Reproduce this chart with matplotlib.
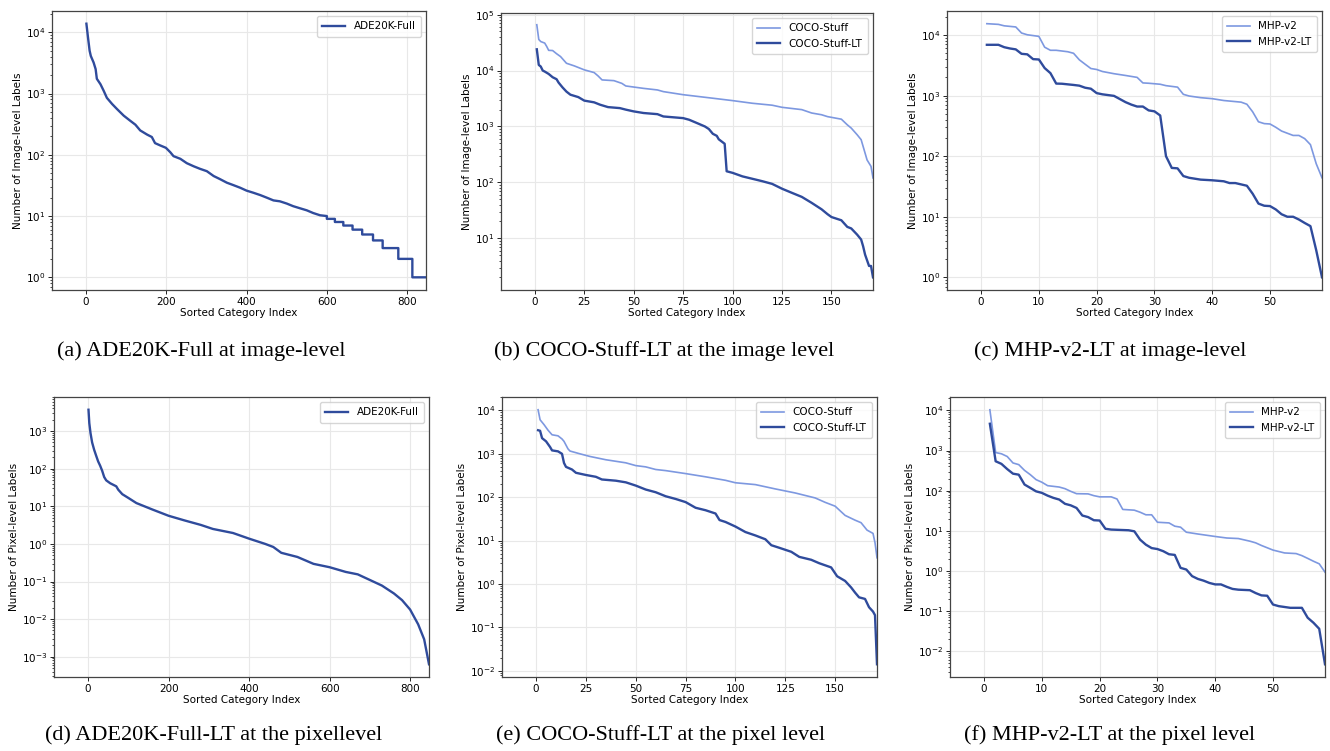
import matplotlib
matplotlib.use("Agg")
import matplotlib.pyplot as plt

DARK = "#2f4b9c"
LIGHT = "#7d98e0"

# ---- ADE20K-Full (847 categories) ----
ade_n = 847
ade_img_x = [1, 5, 9, 12, 19, 24, 27, 36, 44, 52, 65, 77, 94, 110, 123, 135, 152, 164, 172,
             185, 199, 210, 218, 235, 251, 268, 284, 301, 318, 334, 351, 367, 384, 400, 417,
             434, 450, 467, 483, 500, 516, 533, 550, 566, 583, 600, 600, 620, 620, 641, 641,
             664, 664, 688, 688, 715, 715, 739, 739, 778, 778, 813, 813, 847]
ade_img_y = [13800, 8200, 5000, 4100, 3200, 2500, 1740, 1420, 1110, 850, 675, 560, 435, 360,
             310, 250, 214, 195, 155, 142, 130, 110, 95, 86, 73, 65, 59, 54, 45, 40, 35, 32,
             29, 26, 24, 22, 20, 18, 17.4, 16, 14.5, 13.4, 12.4, 11.2, 10.3, 10, 9, 9, 8, 8,
             7, 7, 6, 6, 5, 5, 4, 4, 3, 3, 2, 2, 1, 1]

ade_pix_x = [1, 3, 6, 10, 15, 20, 25, 30, 35, 40, 45, 55, 70, 75, 85, 100, 120, 140, 160, 200,
             240, 280, 310, 360, 400, 440, 460, 480, 520, 560, 600, 640, 670, 700, 730, 760,
             780, 800, 820, 835, 847]
ade_pix_y = [3700, 1630, 885, 500, 320, 222, 156, 120, 88, 60, 49, 41, 34, 27.6, 21, 16.7,
             12.2, 10, 8.2, 5.6, 4.2, 3.2, 2.5, 1.95, 1.38, 1.0, 0.83, 0.58, 0.45, 0.295, 0.24,
             0.18, 0.155, 0.11, 0.078, 0.048, 0.032, 0.018, 0.0073, 0.0029, 0.00063]

# ---- COCO-Stuff (171 categories) ----
coco_n = 171
coco_img_x = [1, 2, 3, 5, 6, 7, 9, 11, 13, 16, 20, 25, 30, 32, 34, 40, 44, 46, 55, 62, 65, 75,
              90, 100, 110, 120, 125, 135, 140, 145, 148, 155, 158, 160, 163, 165, 166, 168,
              170, 171]
coco_img_y = [66000, 36000, 33000, 31000, 27000, 23000, 22800, 20000, 17800, 13500, 12100,
              10300, 9200, 8000, 6800, 6600, 5900, 5300, 4800, 4500, 4200, 3700, 3200, 2900,
              2600, 2400, 2200, 2000, 1740, 1620, 1500, 1350, 1070, 935, 710, 580, 440, 252,
              193, 120]
coco_lt_img_x = [1, 2, 3, 4, 5, 7, 9, 11, 12, 14, 16, 18, 22, 25, 30, 33, 37, 43, 46, 50, 55,
                 62, 65, 75, 78, 82, 86, 88, 90, 92, 93, 96, 97, 100, 105, 115, 120, 125, 130,
                 135, 140, 145, 148, 150, 155, 158, 160, 163, 165, 166, 167, 169, 170, 171]
coco_lt_img_y = [24000, 12600, 11800, 10000, 9600, 8700, 7600, 7000, 6100, 5000, 4200, 3700,
                 3350, 2900, 2700, 2450, 2220, 2130, 2000, 1860, 1740, 1660, 1510, 1410, 1320,
                 1150, 1000, 900, 740, 680, 590, 490, 158, 148, 128, 105, 94, 77, 65, 55, 43,
                 33, 27, 24, 21, 16, 15, 11.6, 9.5, 7.2, 5.1, 3.2, 3.2, 2.0]

coco_pix_x = [1, 2, 4, 6, 8, 11, 13, 14, 16, 17, 22, 27, 35, 45, 50, 55, 60, 65, 75, 85, 95,
              100, 110, 120, 130, 140, 145, 150, 155, 160, 163, 166, 169, 170, 171]
coco_pix_y = [10400, 6100, 4700, 3500, 2750, 2600, 2200, 1940, 1300, 1160, 1000, 870, 730,
              620, 535, 500, 435, 410, 350, 295, 245, 215, 195, 155, 125, 96, 76, 62, 38,
              29.5, 25.8, 17.4, 14.6, 8.9, 4.0]
coco_lt_pix_x = [1, 2, 3, 5, 7, 8, 11, 13, 14, 15, 18, 20, 25, 30, 33, 40, 45, 50, 55, 60, 65,
                 70, 75, 80, 85, 90, 92, 95, 100, 105, 110, 115, 118, 122, 128, 132, 138, 142,
                 148, 151, 155, 158, 160, 162, 165, 167, 169, 170, 171]
coco_lt_pix_y = [3500, 3400, 2300, 1940, 1440, 1200, 1140, 1000, 615, 500, 435, 365, 325, 295,
                 256, 240, 220, 185, 150, 130, 105, 91, 77, 57, 50, 42, 29.7, 26.8, 21, 15.7,
                 13.1, 10.7, 7.8, 6.8, 5.5, 4.2, 3.6, 3.0, 2.4, 1.5, 1.17, 0.83, 0.63, 0.49,
                 0.45, 0.29, 0.23, 0.19, 0.014]

# ---- MHP-v2 (59 categories) ----
mhp_n = 59
mhp_img_x = [1, 3, 4, 6, 7, 8, 9, 10, 11, 12, 13, 15, 16, 17, 18, 19, 20, 21, 23, 25, 27, 28,
             29, 31, 32, 34, 35, 36, 38, 40, 42, 45, 46, 47, 48, 49, 50, 51, 52, 54, 55, 56,
             57, 58, 59]
mhp_img_y = [15400, 15000, 14200, 13600, 10800, 10100, 9800, 9500, 6300, 5600, 5600, 5300,
             5000, 3900, 3300, 2800, 2700, 2500, 2300, 2150, 2000, 1620, 1600, 1540, 1460, 1380,
             1050, 985, 925, 890, 830, 780, 720, 540, 370, 345, 340, 300, 260, 220, 220, 195,
             155, 75, 44]
mhp_lt_img_x = [1, 3, 4, 5, 6, 7, 8, 9, 10, 11, 12, 13, 14, 16, 17, 18, 19, 20, 21, 23, 25, 26,
                27, 28, 29, 30, 31, 32, 33, 34, 35, 36, 38, 40, 42, 43, 44, 46, 47, 48, 49, 50,
                51, 52, 53, 54, 55, 56, 57, 58, 59]
mhp_lt_img_y = [6900, 6900, 6300, 6000, 5800, 4900, 4800, 4000, 3950, 2850, 2350, 1580, 1570,
                1500, 1460, 1350, 1300, 1100, 1050, 990, 780, 710, 660, 660, 570, 550, 470, 100,
                64, 63, 47, 44, 41, 40, 38.5, 36, 36, 32.5, 24, 16.5, 15.2, 15, 13.2, 11, 10,
                10, 9, 7.9, 7, 2.8, 1]

mhp_pix_x = [1, 2, 3, 4, 5, 6, 7, 8, 9, 10, 11, 13, 14, 15, 16, 18, 19, 20, 22, 23, 24, 26, 27,
             28, 29, 30, 32, 33, 34, 35, 37, 40, 42, 44, 46, 47, 48, 50, 52, 54, 55, 56, 57,
             58, 59]
mhp_pix_y = [10400, 890, 830, 710, 490, 445, 320, 250, 188, 162, 133, 123, 112, 96, 84, 83, 75,
             70, 70, 62, 34, 32.6, 29, 25, 25, 16.3, 15.7, 13, 12.3, 9.2, 8.3, 7.2, 6.6, 6.4,
             5.5, 5.0, 4.3, 3.3, 2.8, 2.7, 2.4, 2.05, 1.74, 1.5, 0.93]
mhp_lt_pix_x = [1, 2, 3, 4, 5, 6, 7, 8, 9, 10, 11, 12, 13, 14, 15, 16, 17, 18, 19, 20, 21, 22,
                25, 26, 27, 28, 29, 30, 31, 32, 33, 34, 35, 36, 37, 38, 39, 40, 41, 42, 43, 44,
                46, 47, 48, 49, 50, 51, 53, 55, 56, 57, 58, 59]
mhp_lt_pix_y = [4650, 540, 465, 345, 265, 250, 142, 117, 96, 88, 75, 66, 60, 47, 43, 37, 24,
                21.9, 18.3, 18, 11.2, 10.7, 10.3, 9.7, 6.0, 4.5, 3.7, 3.5, 3.1, 2.6, 2.5, 1.19,
                1.08, 0.74, 0.63, 0.57, 0.50, 0.46, 0.46, 0.40, 0.355, 0.34, 0.33, 0.28, 0.245,
                0.24, 0.145, 0.132, 0.12, 0.12, 0.068, 0.051, 0.036, 0.0047]

W, H = 1330, 751
# axes boxes in pixels: left, top, right, bottom
BOXES = [(52, 11, 426, 290), (501, 13, 873, 290), (947, 11, 1322, 290),
         (54, 397, 429, 677), (502, 397, 877, 677), (950, 397, 1325, 677)]
# caption text, centre x, baseline y (pixels)
CAPTIONS = [("(a) ADE20K-Full at image-level", 201, 356),
            ("(b) COCO-Stuff-LT at the image level", 664, 356),
            ("(c) MHP-v2-LT at image-level", 1110, 356),
            ("(d) ADE20K-Full-LT at the pixellevel", 214, 740),
            ("(e) COCO-Stuff-LT at the pixel level", 661, 740),
            ("(f) MHP-v2-LT at the pixel level", 1110, 740)]
FS = 7.5


def make_axes(fig, box):
    l, t, r, b = box
    return fig.add_axes([l / W, 1 - b / H, (r - l) / W, (b - t) / H])


def style(ax, n, ylabel):
    ax.set_yscale("log")
    ax.set_xlim(-0.1 * n, n)
    ax.grid(True, color="#e8e8e8", linewidth=0.8)
    ax.set_axisbelow(True)
    ax.set_xlabel("Sorted Category Index", fontsize=FS, labelpad=1)
    ax.set_ylabel(ylabel, fontsize=FS, labelpad=2)
    ax.tick_params(labelsize=FS, length=3, width=0.6, pad=2)
    ax.tick_params(which="minor", length=1.8, width=0.5)
    for s in ax.spines.values():
        s.set_color("#444444")
        s.set_linewidth(0.9)
    ax.legend(loc="upper right", fontsize=FS, handlelength=2.2, borderpad=0.5,
              labelspacing=0.5)


fig = plt.figure(figsize=(W / 100, H / 100), dpi=100)
axes = [make_axes(fig, b) for b in BOXES]
img_label = "Number of Image-level Labels"
pix_label = "Number of Pixel-level Labels"

ax = axes[0]
ax.plot(ade_img_x, ade_img_y, color=DARK, lw=1.7, label="ADE20K-Full")
style(ax, ade_n, img_label)

ax = axes[1]
ax.plot(coco_img_x, coco_img_y, color=LIGHT, lw=1.2, label="COCO-Stuff")
ax.plot(coco_lt_img_x, coco_lt_img_y, color=DARK, lw=1.7, label="COCO-Stuff-LT")
style(ax, coco_n, img_label)
ax.set_ylim(top=1.07e5)

ax = axes[2]
ax.plot(mhp_img_x, mhp_img_y, color=LIGHT, lw=1.2, label="MHP-v2")
ax.plot(mhp_lt_img_x, mhp_lt_img_y, color=DARK, lw=1.7, label="MHP-v2-LT")
style(ax, mhp_n, img_label)

ax = axes[3]
ax.plot(ade_pix_x, ade_pix_y, color=DARK, lw=1.7, label="ADE20K-Full")
style(ax, ade_n, pix_label)

ax = axes[4]
ax.plot(coco_pix_x, coco_pix_y, color=LIGHT, lw=1.2, label="COCO-Stuff")
ax.plot(coco_lt_pix_x, coco_lt_pix_y, color=DARK, lw=1.7, label="COCO-Stuff-LT")
style(ax, coco_n, pix_label)

ax = axes[5]
ax.plot(mhp_pix_x, mhp_pix_y, color=LIGHT, lw=1.2, label="MHP-v2")
ax.plot(mhp_lt_pix_x, mhp_lt_pix_y, color=DARK, lw=1.7, label="MHP-v2-LT")
style(ax, mhp_n, pix_label)

for text, cx, cy in CAPTIONS:
    fig.text(cx / W, 1 - cy / H, text, ha="center", va="baseline",
             fontsize=16, family="Liberation Serif")

fig.savefig("out.png", dpi=100)
